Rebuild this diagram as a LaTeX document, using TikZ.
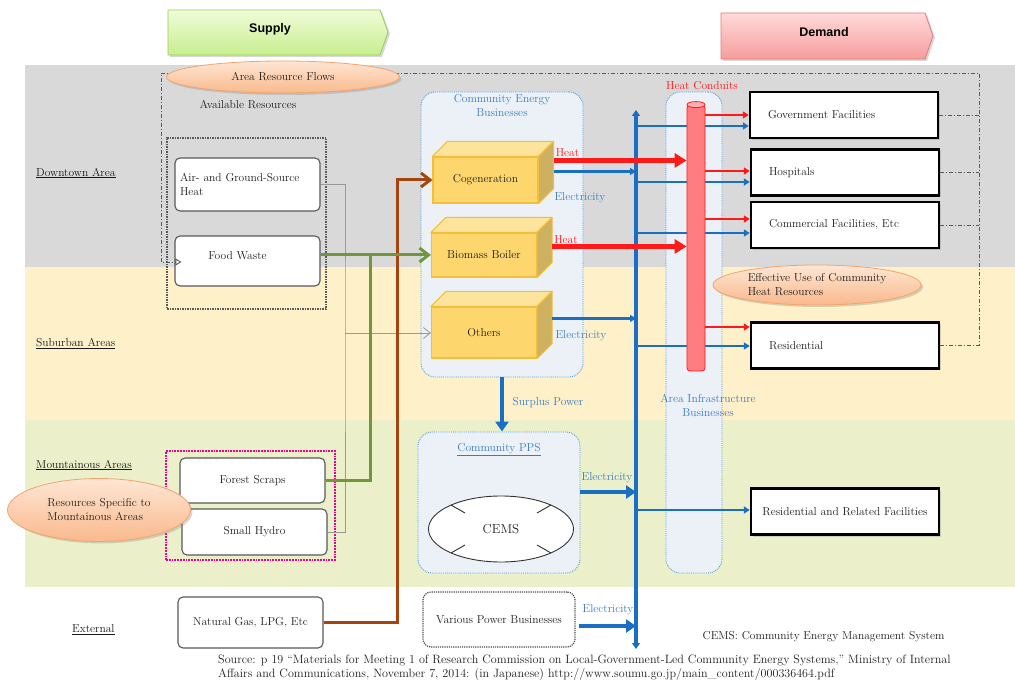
\documentclass[tikz,border=0pt]{standalone}
\usepackage{fontspec}
\newfontfamily\headsans{Liberation Sans}
\usetikzlibrary{arrows.meta,shapes.geometric,shadows,calc}

\definecolor{bandgray}{HTML}{D9D9D9}
\definecolor{bandcream}{HTML}{FEF0C9}
\definecolor{bandgreen}{HTML}{EBF0CB}
\definecolor{elecblue}{HTML}{1A6FC4}
\definecolor{textblue}{HTML}{3A7CC4}
\definecolor{panelblue}{HTML}{EBF1F7}
\definecolor{panelline}{HTML}{5B9BD5}
\definecolor{cubefront}{HTML}{FDD66E}
\definecolor{cubetop}{HTML}{FDE49C}
\definecolor{cubeside}{HTML}{CDB160}
\definecolor{cubeedge}{HTML}{F4BE3A}
\definecolor{heatred}{HTML}{FF1A1A}
\definecolor{conduit}{HTML}{FF7C80}
\definecolor{flowgreen}{HTML}{71973A}
\definecolor{gasbrown}{HTML}{A5440C}
\definecolor{calloutlight}{HTML}{FEE6D4}
\definecolor{calloutdark}{HTML}{F9B98C}
\definecolor{calloutedge}{HTML}{F2A46C}
\definecolor{supplylight}{HTML}{F0FCD8}
\definecolor{supplydark}{HTML}{C8EE8E}
\definecolor{supplyedge}{HTML}{9CCB5A}
\definecolor{demandlight}{HTML}{FFDADA}
\definecolor{demanddark}{HTML}{F69C9C}
\definecolor{demandedge}{HTML}{E07B7B}

\newcommand\boxfont{\fontsize{11.5}{14}\selectfont}

\tikzset{
  every node/.style={font=\boxfont, text=black!88},
  arealabel/.style={anchor=west, inner sep=0pt, text=black!90},
  headtext/.style={font=\fontsize{12.5}{14}\headsans\bfseries, text=black},
  softshadow/.style={drop shadow={shadow xshift=2pt, shadow yshift=-2pt, opacity=.3}},
  resbox/.style={draw=black!65, line width=1.1pt, rounded corners=5pt, fill=white, minimum width=145pt, inner sep=3pt},
  resgroup/.style={draw=black!65, densely dotted, line width=1.5pt},
  mountgroup/.style={draw=magenta, densely dotted, line width=1.8pt},
  demandbox/.style={draw=black, line width=2.4pt, fill=white, minimum width=188pt, minimum height=46pt, text width=152pt, align=left, softshadow},
  panel/.style={draw=panelline, densely dotted, line width=0.9pt, fill=panelblue, rounded corners=14pt},
  paneltitle/.style={text=textblue, align=center, inner sep=1pt},
  cubebox/.style={fill=cubefront, draw=cubeedge, line width=1.1pt, minimum width=105pt},
  cubetopface/.style={fill=cubetop, draw=cubeedge, line width=1.1pt, line join=round},
  cubesideface/.style={fill=cubeside, draw=cubeedge, line width=1.1pt, line join=round},
  callout/.style={ellipse, draw=calloutedge, line width=0.8pt, top color=calloutlight, bottom color=calloutdark, inner sep=0pt, softshadow},
  eleclabel/.style={text=textblue, inner sep=1pt},
  heatlabel/.style={text=heatred, inner sep=1pt},
  pipebody/.style={fill=conduit, draw=heatred, line width=0.8pt, rounded corners=3pt, minimum width=18pt, minimum height=266pt},
  pipetop/.style={fill=conduit!60!white, draw=heatred, line width=0.8pt},
  busline/.style={elecblue, line width=4pt, {Triangle[length=6pt,width=8pt]}-{Triangle[length=6pt,width=8pt]}},
  heatmain/.style={heatred, line width=5pt, -{Triangle[length=12pt,width=14pt]}},
  heatbranch/.style={heatred, line width=2.6pt, -{Triangle[length=6pt,width=7pt]}},
  elecbranch/.style={elecblue, line width=2.2pt, -{Triangle[length=6pt,width=7pt]}},
  elecmain/.style={elecblue, line width=4.5pt, -{Triangle[length=10pt,width=13pt]}},
  loopline/.style={black!65, line width=0.9pt, dash pattern=on 4pt off 2pt on 1pt off 2pt},
  grayflow/.style={black!40, line width=0.8pt},
  greenflow/.style={flowgreen, line width=3pt},
  brownflow/.style={gasbrown, line width=3pt},
  barb/.style={-{Straight Barb[length=9pt,width=14pt]}},
  cemstick/.style={black!80, line width=0.9pt}
}

\begin{document}
\begin{tikzpicture}[x=1pt,y=-1pt]
\useasboundingbox (0,0) rectangle (1015,684);
\fill[white] (0,0) rectangle (1015,684);

% area bands
\fill[bandgray] (25,65) rectangle (1015,267);
\fill[bandcream] (25,267) rectangle (1015,420);
\fill[bandgreen] (25,420) rectangle (1015,587);

\node[arealabel] (downtown) at (36,173) {\underline{Downtown Area}};
\node[arealabel] (suburban) at (36,344) {\underline{Suburban Areas}};
\node[arealabel] (mountain) at (36,465) {\underline{Mountainous Areas}};
\node[arealabel] (external) at (72,630) {\underline{External}};

% supply and demand headers
\path[softshadow, top color=supplylight, bottom color=supplydark, draw=supplyedge, line width=0.8pt]
  (168,10) -- (380,10) -- (388,32) -- (380,55) -- (168,55) -- cycle;
\node[headtext] (supply) at (270,29) {Supply};
\path[softshadow, top color=demandlight, bottom color=demanddark, draw=demandedge, line width=0.8pt]
  (721,13) -- (925,13) -- (933,36) -- (925,59) -- (721,59) -- cycle;
\node[headtext] (demand) at (824,32) {Demand};

% demand side
\node[demandbox] (gov) at (844,115) {Government Facilities};
\node[demandbox] (hosp) at (845,172.5) {Hospitals};
\node[demandbox] (comm) at (845,225) {Commercial Facilities, Etc};
\node[demandbox] (res) at (845,345.5) {Residential};
\node[demandbox, text width=176pt, align=center] (resrel) at (845,511.5) {Residential and Related Facilities};

% resource flow loop
\coordinate (loopne) at (979,73);
\coordinate (loopnw) at (161,73);
\node[resgroup, minimum width=159pt, minimum height=171pt] (localres) at (246.5,223.5) {};
\node[mountgroup, minimum width=169pt, minimum height=109pt] (mountres) at (250.5,505.5) {};
\node[resbox, minimum height=50pt,
  label={[anchor=center, xshift=-10pt, yshift=-20pt]north:Food Waste}] (food) at (247.5,261) {};
\draw[loopline, -{Triangle[open,length=6pt,width=7pt]}] (res.east) -| (loopne) -- (loopnw) |- ($(food.west)+(7,1)$);
\foreach \t in {gov,hosp,comm}
  \draw[loopline] (\t.east) -- (\t.east -| loopne);
\node[callout, minimum width=233pt, minimum height=32pt] (flowcallout) at (283,77) {Area Resource Flows};
\node (avail) at (248,105) {Available Resources};

% available resources
\node[resbox, minimum height=53pt, text width=135pt, align=left] (air) at (247.5,184.5) {Air- and Ground-Source\\Heat};
\node[resbox, minimum height=45pt] (forest) at (252.5,480.5) {Forest Scraps};
\node[resbox, minimum height=46pt] (hydro) at (254.5,532) {Small Hydro};
\node[resbox, minimum height=51pt] (gas) at (250.5,622.5) {Natural Gas, LPG, Etc};
\node[callout, minimum width=183pt, minimum height=63pt, align=left] (mountcallout) at (99,510) {Resources Specific to\\Mountainous Areas};

% businesses
\node[panel, minimum width=162pt, minimum height=285pt,
  label={[paneltitle, anchor=north, yshift=-2pt]north:Community Energy\\Businesses}] (ceb) at (502,234.5) {};
\node[panel, minimum width=56pt, minimum height=481pt] (infra) at (694,332.5) {};
\node[paneltitle] (infratext) at (708,405) {Area Infrastructure\\Businesses};
\node[panel, minimum width=162pt, minimum height=141pt,
  label={[paneltitle, anchor=north, yshift=-11pt]north:\underline{Community PPS}}] (pps) at (499,502.5) {};
\node[ellipse, draw=black!80, line width=0.9pt, fill=white, minimum width=145pt, minimum height=66pt,
  font=\fontsize{13}{15}\selectfont] (cems) at (501,529) {CEMS};
\foreach \sx in {-1,1}
  \foreach \sy in {-1,1}
    \draw[cemstick] ($(cems.center)+(\sx*50,\sy*24)$) -- ++(-\sx*14,-\sy*8);
\node[draw=black!70, densely dotted, line width=1.2pt, rounded corners=8pt, fill=white,
  minimum width=152pt, minimum height=55pt] (various) at (499,619.5) {Various Power Businesses};

% generation units
\node[cubebox, minimum height=46pt] (cogen) at (485.5,180) {Cogeneration};
\node[cubebox, minimum height=44pt] (biomass) at (484,255) {Biomass Boiler};
\node[cubebox, minimum height=51pt] (others) at (484,332.5) {Others};
\foreach \c in {cogen,biomass,others} {
  \filldraw[cubetopface] (\c.north west) -- ++(15,-15) -- ($(\c.north east)+(15,-15)$) -- (\c.north east) -- cycle;
  \filldraw[cubesideface] (\c.north east) -- ++(15,-15) -- ($(\c.south east)+(15,-15)$) -- (\c.south east) -- cycle;
}

% resource flows into the units
\coordinate (grayjoin) at (345,333);
\coordinate (greenjoin) at (370,255);
\coordinate (gasriser) at (397,180);
\draw[grayflow] (air.east) -| (grayjoin) |- (hydro.east);
\draw[grayflow, -{Straight Barb[length=7pt,width=11pt]}] (grayjoin) -- (grayjoin -| others.west);
\draw[brownflow, barb] (gas.east) -| (gasriser) -- (cogen.west);
\draw[greenflow] (forest.east) -| (greenjoin);
\draw[greenflow, barb] (food.east |- biomass.west) -- (biomass.west);

% electricity bus
\coordinate (bustop) at (636,110);
\coordinate (busbot) at (636,649);
\draw[busline] (busbot) -- (bustop);
\coordinate (cogenelec) at ($(cogen.north east)+(15,15)$);
\coordinate (otherselec) at ($(others.north east)+(15,12)$);
\draw[elecbranch] (cogenelec) -- (cogenelec -| bustop);
\draw[elecbranch] (otherselec) -- (otherselec -| bustop);
\foreach \y/\t in {126/gov,182/hosp,233/comm,346/res,510/resrel}
  \draw[elecbranch] (bustop |- 0,\y) -- (\t.west |- 0,\y);
\draw[elecmain] (ceb.south) -- (ceb.south |- pps.north);
\draw[elecmain] (pps.east |- 0,492) -- (bustop |- 0,492);
\coordinate (variouselec) at ($(various.east)+(3,6.5)$);
\draw[elecmain] (variouselec) -- (variouselec -| bustop);
\node[eleclabel] (cogenelectxt) at (580,198) {Electricity};
\node[eleclabel] (otherselectxt) at (581,336) {Electricity};
\node[eleclabel] (ppselectxt) at (607,478) {Electricity};
\node[eleclabel] (variouselectxt) at (608,610) {Electricity};
\node[eleclabel] (surplustxt) at (548,403) {Surplus Power};

% heat conduits
\node[pipebody] (pipe) at (696,238) {};
\filldraw[pipetop] (pipe.north) ellipse [x radius=9pt, y radius=3pt];
\node[heatlabel] (conduittxt) at (702,86) {Heat Conduits};
\coordinate (cogenheat) at ($(cogen.north east)+(15,4)$);
\coordinate (biomassheat) at ($(biomass.north east)+(15,14)$);
\draw[heatmain] (cogenheat) -- (cogenheat -| pipe.west);
\draw[heatmain] (biomassheat) -- (biomassheat -| pipe.west);
\node[heatlabel, anchor=south west] (cogenheattxt) at ($(cogenheat)+(1,-3)$) {Heat};
\node[heatlabel, anchor=south west] (biomassheattxt) at ($(biomassheat)+(1,-2)$) {Heat};
\foreach \y/\t in {115/gov,171/hosp,219/comm,327/res}
  \draw[heatbranch] (pipe.east |- 0,\y) -- (\t.west |- 0,\y);
\node[callout, minimum width=208pt, minimum height=40pt, align=left] (heatcallout) at (817,285) {Effective Use of Community\\Heat Resources};

% notes
\node[anchor=east] (cemsnote) at (948,637) {CEMS: Community Energy Management System};
\node[anchor=north west, align=left, inner sep=0pt, font=\fontsize{12.1}{14}\selectfont] (source) at (218,655)
  {Source: p 19 ``Materials for Meeting 1 of Research Commission on Local-Government-Led Community Energy Systems,'' Ministry of Internal\\
   Affairs and Communications, November 7, 2014: (in Japanese) http://www.soumu.go.jp/main\_content/000336464.pdf};
\end{tikzpicture}
\end{document}
